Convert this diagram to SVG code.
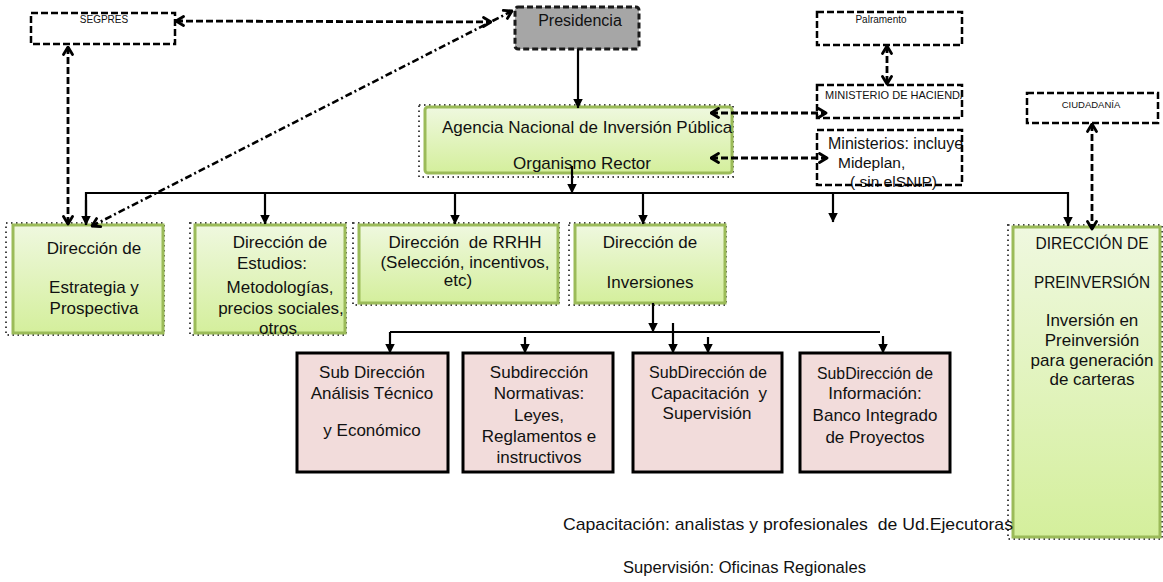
<svg xmlns="http://www.w3.org/2000/svg" width="1163" height="582" viewBox="0 0 1163 582">
<defs>
<linearGradient id="g" x1="0" y1="0" x2="0" y2="1"><stop offset="0" stop-color="#eff8df"/><stop offset="1" stop-color="#d4ef9c"/></linearGradient>
<marker id="tri" viewBox="0 0 10 10" refX="9.5" refY="5" markerWidth="10" markerHeight="11" markerUnits="userSpaceOnUse" orient="auto"><path d="M0,0 L10,5 L0,10 z" fill="#000"/></marker>
<marker id="chev" viewBox="0 0 12 12" refX="10.5" refY="6" markerWidth="12" markerHeight="12" markerUnits="userSpaceOnUse" orient="auto-start-reverse"><path d="M3,1.5 L10.5,6 L3,10.5" fill="none" stroke="#000" stroke-width="2.8" stroke-linecap="round" stroke-linejoin="round"/></marker>
<clipPath id="cA"><rect x="425" y="100" width="308" height="80"/></clipPath>
<clipPath id="cH"><rect x="817" y="85" width="146" height="33"/></clipPath>
<clipPath id="cM"><rect x="817" y="128" width="146" height="70"/></clipPath>
<clipPath id="cP"><rect x="1013" y="227" width="148" height="310"/></clipPath>
</defs>
<style>
.t{font-family:"Liberation Sans",Arial,sans-serif;fill:#111}
.m{font-size:17px;text-anchor:middle}
.sm{font-size:10px}
.dbox{fill:#fff;stroke:#000;stroke-width:2.5;stroke-dasharray:7 3}
.dline{fill:none;stroke:#000;stroke-width:2.5;stroke-dasharray:7 3}
.gbox{fill:url(#g);stroke:#9bbb59;stroke-width:3}
.dot{fill:none;stroke:#444;stroke-width:2;stroke-dasharray:1.5 3.5}
.pbox{fill:#f2dcdb;stroke:#000;stroke-width:3}
.sol{fill:none;stroke:#000;stroke-width:2.2}
.dash{fill:none;stroke:#000;stroke-width:2.8;stroke-dasharray:7 3}
.dashd{fill:none;stroke:#000;stroke-width:2.6;stroke-dasharray:7 3 2 3}
</style>

<g id="segpres">
<rect class="dbox" x="31" y="13" width="144" height="31"/>
<text class="t sm" x="104" y="23" text-anchor="middle">SEGPRES</text>
</g>

<g id="presidencia">
<rect x="515" y="7" width="124" height="42" rx="3" fill="#a6a6a6" stroke="#1a1a1a" stroke-width="3" stroke-dasharray="6 3"/>
<text class="t" x="580" y="26" font-size="16" text-anchor="middle">Presidencia</text>
</g>

<g id="palramento">
<rect class="dbox" x="817" y="12" width="145" height="33"/>
<text class="t sm" x="881" y="23" text-anchor="middle">Palramento</text>
</g>

<g id="hacienda">
<rect class="dbox" x="817" y="85" width="145" height="33"/>
<text class="t" x="825" y="99" font-size="11" clip-path="url(#cH)">MINISTERIO DE HACIENDA</text>
</g>

<g id="ministerios">
<rect x="817" y="130" width="145" height="55" fill="#fff"/>
<g clip-path="url(#cM)">
<text class="t" x="828" y="149" font-size="16">Ministerios: incluye</text>
<text class="t" x="838" y="168" font-size="15.5">Mideplan,</text>
<text class="t" x="850" y="187" font-size="15.5">( sin elSNIP)</text>
</g>
<rect class="dline" x="817" y="130" width="145" height="55"/>
</g>

<g id="ciudadania">
<rect class="dbox" x="1027" y="93" width="131" height="30"/>
<text class="t" x="1091" y="108" font-size="9.5" text-anchor="middle">CIUDADANÍA</text>
</g>

<g id="agencia">
<rect class="dot" x="419" y="105" width="314" height="72"/>
<rect class="gbox" x="425" y="107" width="307" height="66" rx="3"/>
<g clip-path="url(#cA)">
<text class="t" x="442" y="133" font-size="17">Agencia Nacional de Inversión Pública</text>
<text class="t m" x="582" y="169">Organismo Rector</text>
</g>
</g>

<g id="estrategia">
<rect class="dot" x="6" y="223" width="158" height="112"/>
<rect class="gbox" x="13" y="225" width="150" height="108"/>
<text class="t m" x="94" y="254">Dirección de</text>
<text class="t m" x="94" y="293">Estrategia y</text>
<text class="t m" x="94" y="314">Prospectiva</text>
</g>

<g id="estudios">
<rect class="dot" x="190" y="223" width="156" height="112"/>
<rect class="gbox" x="195" y="225" width="150" height="108"/>
<text class="t m" x="280" y="248">Dirección de</text>
<text class="t m" x="272" y="269">Estudios:</text>
<text class="t m" x="280" y="293">Metodologías,</text>
<text class="t m" x="281" y="314">precios sociales,</text>
<text class="t m" x="278" y="334">otros</text>
</g>

<g id="rrhh">
<rect class="dot" x="353" y="223" width="206" height="82"/>
<rect class="gbox" x="359" y="225" width="199" height="78"/>
<text class="t m" x="465" y="248" xml:space="preserve">Dirección  de RRHH</text>
<text class="t m" x="465" y="268">(Selección, incentivos,</text>
<text class="t m" x="458" y="286">etc)</text>
</g>

<g id="inversiones">
<rect class="dot" x="569" y="223" width="157" height="82"/>
<rect class="gbox" x="575" y="225" width="150" height="78"/>
<text class="t m" x="650" y="248">Dirección de</text>
<text class="t m" x="650" y="288">Inversiones</text>
</g>

<g id="preinversion">
<rect class="dot" x="1008" y="225" width="154" height="314"/>
<rect class="gbox" x="1013" y="227" width="147" height="310"/>
<g clip-path="url(#cP)">
<text class="t m" x="1092" y="249" textLength="113" lengthAdjust="spacingAndGlyphs">DIRECCIÓN DE</text>
<text class="t m" x="1092" y="288" textLength="116" lengthAdjust="spacingAndGlyphs">PREINVERSIÓN</text>
</g>
<text class="t m" x="1092" y="326">Inversión en</text>
<text class="t m" x="1092" y="346">Preinversión</text>
<text class="t m" x="1092" y="366">para generación</text>
<text class="t m" x="1092" y="385">de carteras</text>
</g>

<g id="sub-analisis">
<rect class="pbox" x="297" y="353" width="151" height="119"/>
<text class="t m" x="372" y="378">Sub Dirección</text>
<text class="t m" x="372" y="399">Análisis Técnico</text>
<text class="t m" x="372" y="436">y Económico</text>
</g>

<g id="sub-normativas">
<rect class="pbox" x="463" y="353" width="150" height="119"/>
<text class="t m" x="539" y="378">Subdirección</text>
<text class="t m" x="539" y="399">Normativas:</text>
<text class="t m" x="539" y="421">Leyes,</text>
<text class="t m" x="539" y="442">Reglamentos e</text>
<text class="t m" x="539" y="463">instructivos</text>
</g>

<g id="sub-capacitacion">
<rect class="pbox" x="633" y="353" width="149" height="119"/>
<text class="t m" x="708" y="378" textLength="118" lengthAdjust="spacingAndGlyphs">SubDirección de</text>
<text class="t m" x="709" y="399" xml:space="preserve">Capacitación  y</text>
<text class="t m" x="707" y="419">Supervisión</text>
</g>

<g id="sub-informacion">
<rect class="pbox" x="800" y="353" width="150" height="119"/>
<text class="t m" x="875" y="379" textLength="116" lengthAdjust="spacingAndGlyphs">SubDirección de</text>
<text class="t m" x="875" y="399">Información:</text>
<text class="t m" x="875" y="421">Banco Integrado</text>
<text class="t m" x="875" y="443">de Proyectos</text>
</g>

<g id="notas">
<text class="t" x="563" y="530" font-size="17" textLength="450" lengthAdjust="spacingAndGlyphs" xml:space="preserve">Capacitación: analistas y profesionales  de Ud.Ejecutoras</text>
<text class="t" x="623" y="573" font-size="17" textLength="243" lengthAdjust="spacingAndGlyphs">Supervisión: Oficinas Regionales</text>
</g>

<g id="connectors">
<line class="dash" x1="176" y1="21" x2="491" y2="22" marker-start="url(#chev)" marker-end="url(#chev)"/>
<line class="dashd" x1="512" y1="11" x2="92" y2="226" marker-start="url(#chev)" marker-end="url(#chev)"/>
<line class="dash" x1="68" y1="47" x2="68" y2="224" marker-start="url(#chev)" marker-end="url(#chev)"/>
<line class="dash" x1="887" y1="46" x2="887" y2="84" marker-start="url(#chev)" marker-end="url(#chev)"/>
<line class="dash" x1="711" y1="113" x2="826" y2="113" marker-start="url(#chev)" marker-end="url(#chev)"/>
<line class="dash" x1="711" y1="158" x2="827" y2="158" marker-start="url(#chev)" marker-end="url(#chev)"/>
<line class="dash" x1="1092" y1="124" x2="1092" y2="229" marker-start="url(#chev)" marker-end="url(#chev)"/>

<line class="sol" x1="578" y1="49" x2="578" y2="108" marker-end="url(#tri)"/>
<line class="sol" x1="572" y1="166" x2="572" y2="193" marker-end="url(#tri)"/>
<polyline class="sol" points="86,225 86,193 1068,193 1068,226" stroke-width="2.8" marker-end="url(#tri)"/>
<line class="sol" x1="86" y1="200" x2="86" y2="225" marker-end="url(#tri)"/>
<line class="sol" x1="265" y1="193" x2="265" y2="224" marker-end="url(#tri)"/>
<line class="sol" x1="455" y1="193" x2="455" y2="224" marker-end="url(#tri)"/>
<line class="sol" x1="643" y1="193" x2="643" y2="224" marker-end="url(#tri)"/>
<line class="sol" x1="833" y1="193" x2="833" y2="222" stroke-width="3" marker-end="url(#tri)"/>

<line class="sol" x1="653" y1="303" x2="653" y2="332" marker-end="url(#tri)"/>
<line class="sol" x1="390" y1="332" x2="880" y2="332" stroke-width="2.8"/>
<line class="sol" x1="390" y1="332" x2="390" y2="353" marker-end="url(#tri)"/>
<line class="sol" x1="525" y1="337" x2="525" y2="353" marker-end="url(#tri)"/>
<line class="sol" x1="673" y1="323" x2="673" y2="353" stroke-width="3" marker-end="url(#tri)"/>
<line class="sol" x1="708" y1="337" x2="708" y2="353" stroke-width="3" marker-end="url(#tri)"/>
<line class="sol" x1="883" y1="336" x2="883" y2="353" stroke-width="3" marker-end="url(#tri)"/>
</g>
</svg>
